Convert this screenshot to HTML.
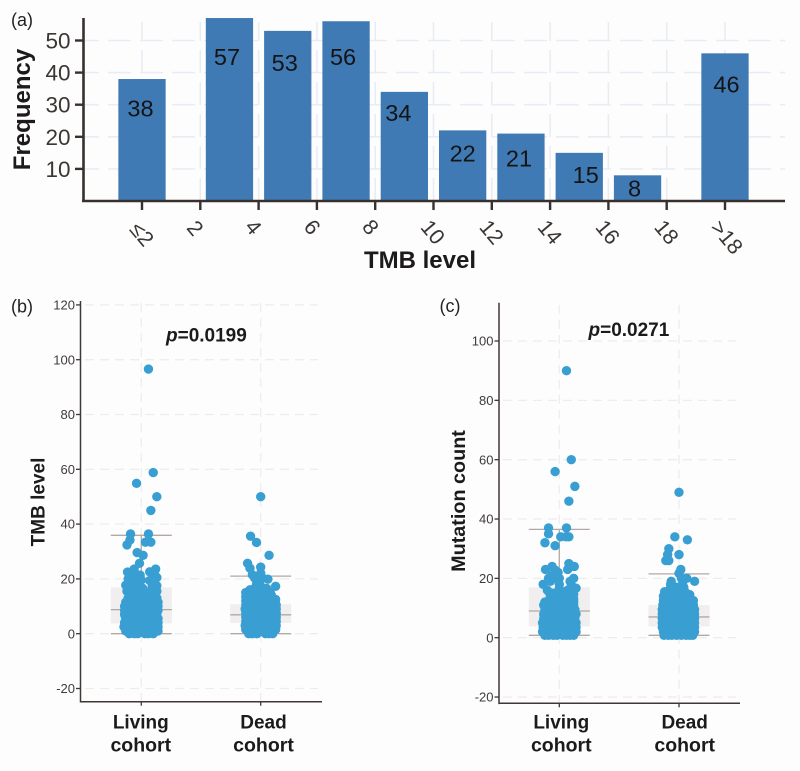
<!DOCTYPE html>
<html>
<head>
<meta charset="utf-8">
<title>TMB level charts</title>
<style>
html,body{margin:0;padding:0;background:#fdfdfd;}
svg{display:block;font-family:"Liberation Sans",Arial,sans-serif;}
</style>
</head>
<body>
<svg id="figure" width="800" height="771" viewBox="0 0 800 771" xmlns="http://www.w3.org/2000/svg">
  <rect width="800" height="771" fill="#fdfdfd"/>
  <text x="11" y="26" font-size="18" fill="#222">(a)</text>
  <text x="11" y="312.5" font-size="18" fill="#222">(b)</text>
  <text x="439.5" y="312" font-size="18" fill="#222">(c)</text>
  <text transform="translate(30 109.5) rotate(-90)" text-anchor="middle" font-size="24" font-weight="bold" fill="#1c1a1a">Frequency</text>
  <text x="420" y="268" text-anchor="middle" font-size="24" font-weight="bold" fill="#1c1a1a">TMB level</text>
  <text transform="translate(44.5 502) rotate(-90)" text-anchor="middle" font-size="19" font-weight="bold" fill="#1c1a1a">TMB level</text>
  <text transform="translate(465 501) rotate(-90)" text-anchor="middle" font-size="19.8" font-weight="bold" fill="#1c1a1a">Mutation count</text>
  <text x="166" y="341.5" font-size="19" font-weight="bold" fill="#1c1a1a"><tspan font-style="italic">p</tspan>=0.0199</text>
  <text x="588.5" y="336" font-size="19" font-weight="bold" fill="#1c1a1a"><tspan font-style="italic">p</tspan>=0.0271</text>
  <g id="panel-a"></g>
  <g id="panel-b"></g>
  <g id="panel-c"></g>
</svg>
<script>
/* Panel (a) data */
const freqTickValues = [10, 20, 30, 40, 50];
const tmbTickValues = [0, 2, 4, 6, 8, 10, 12, 14, 16, 18, 20];
const tmbTickLabels = ['\u22642', '2', '4', '6', '8', '10', '12', '14', '16', '18', '>18'];
const barBinCenters = [0, 3, 5, 7, 9, 11, 13, 15, 17, 20];
const barFrequencies = [38, 57, 53, 56, 34, 22, 21, 15, 8, 46];
/* label placement nudges, relative to the top-centre of each bar */
const barLabelNudgeX = [-1.5, -2.5, -3, -3, -6, 0, -2, 6.5, -3, 1.5];
const barLabelNudgeY = [37.5, 47, 40, 44, 29, 31, 33, 30, 21, 39];
const tickLabelNudgeX = [0, -5, -5, -4.5, -4.5, -0.5, 0, 0, -0.5, 0, 2];
const tickLabelNudgeY = [33, 27, 26, 26, 26, 31, 31, 31, 31, 31, 36];

/* Panels (b) and (c) shared data */
const cohortNames = [['Living', 'cohort'], ['Dead', 'cohort']];
const scatterTickValues = [-20, 0, 20, 40, 60, 80, 100, 120];
const scatterTickValuesC = [-20, 0, 20, 40, 60, 80, 100];

/* Panel (b) boxes: living, dead */
const tmbQ1 = [3.8, 3.9];
const tmbMedian = [8.8, 6.9];
const tmbQ3 = [16.9, 10.8];
const tmbUpper = [35.9, 21];
const tmbLower = [0, 0];

/* Panel (c) boxes: living, dead */
const mutQ1 = [3.8, 3.8];
const mutMedian = [9, 7];
const mutQ3 = [17, 11];
const mutUpper = [36.5, 21.5];
const mutLower = [0.8, 0.8];

/* Panel (b) living points */
const tmbLivingValues = [96.6,58.8,54.9,50,45,36.4,36.4,34.2,32.4,33.4,33.4,29.6,28.6,25.7,
22.5,23.6,23.6,22.6,20.8,21.4,19.6,19.9,20.5,19.4,17.7,18.5,16.6,17.5,15.5,15.5,15.5,15.5,
13,13,13,13,13,13,13,
11.5,11.5,11.5,11.5,11.5,11.5,11.5,11.5,
10,10,10,10,10,10,10,10,
8.5,8.5,8.5,8.5,8.5,8.5,8.5,8.5,
7,7,7,7,7,7,7,7,
5.5,5.5,5.5,5.5,5.5,5.5,5.5,5.5,
4,4,4,4,4,4,4,4,
2.5,2.5,2.5,2.5,2.5,2.5,2.5,2.5,
1,1,1,1,1,1,1,1,
0,0,0,0,0,0,
19,21,18,16.5,17,18.5,21,20,17.5,15,14.5,14];
const tmbLivingJitter = [.06,.10,-.04,.13,.08,-.09,.06,-.095,-.12,.035,.08,-.035,.015,-.015,
-.115,-.06,.12,.07,-.095,-.01,0,.10,.13,.07,-.13,-.09,.01,.13,-.12,-.09,.08,.13,
-.11,-.07,-.03,.01,.05,.09,.13,
-.13,-.09,-.05,-.01,.03,.07,.11,.14,
-.14,-.10,-.06,-.02,.02,.06,.10,.14,
-.14,-.10,-.06,-.02,.02,.06,.10,.14,
-.14,-.10,-.06,-.02,.02,.06,.10,.13,
-.13,-.09,-.05,-.01,.03,.07,.11,.14,
-.14,-.10,-.06,-.02,.02,.06,.10,.14,
-.145,-.10,-.06,-.02,.02,.06,.10,.14,
-.13,-.09,-.05,-.01,.03,.07,.11,.14,
-.10,-.06,-.03,.03,.06,.10,
-.08,-.06,-.03,-.05,.09,.11,.12,-.11,-.02,.03,-.03,.05];

/* Panel (b) dead points */
const tmbDeadValues = [50,35.6,33.3,28.6,25.7,23.9,24.3,22.1,21.5,20.3,20.3,19.9,18,17.4,17.3,16,
15,15,15,15,15,
13.5,13.5,13.5,13.5,13.5,13.5,
12,12,12,12,12,12,12,
10.5,10.5,10.5,10.5,10.5,10.5,10.5,10.5,
9,9,9,9,9,9,9,9,
7.5,7.5,7.5,7.5,7.5,7.5,7.5,7.5,
6,6,6,6,6,6,6,6,
4.5,4.5,4.5,4.5,4.5,4.5,4.5,4.5,
3,3,3,3,3,3,3,3,
1.5,1.5,1.5,1.5,1.5,1.5,1.5,1.5,
0,0,0,0,0,0,
16,16.5,15.5,16.5,14,15,12.5];
const tmbDeadJitter = [0,-.085,-.035,.07,-.11,-.09,0,0,-.07,-.05,.015,.06,-.035,0,.125,.02,
-.125,-.10,-.03,.01,.04,
-.125,-.09,-.05,-.01,.03,.07,
-.125,-.09,-.05,-.01,.03,.07,.11,
-.125,-.09,-.05,-.01,.03,.06,.10,.13,
-.13,-.09,-.05,-.01,.03,.06,.10,.13,
-.125,-.09,-.05,-.01,.03,.06,.10,.13,
-.125,-.09,-.05,-.01,.03,.06,.10,.13,
-.125,-.09,-.05,-.01,.03,.06,.10,.13,
-.13,-.09,-.05,-.01,.03,.06,.10,.13,
-.125,-.09,-.05,-.01,.03,.06,.10,.125,
-.10,-.07,-.03,.04,.07,.10,
-.09,-.05,-.01,.05,.09,.08,.125];

/* Panel (c) living points */
const mutLivingValues = [90,60,56,51,46,37,37,35,32,31,34,34,34,25,24,23,24,23,22,22.8,20,20,18,18,17.8,16.7,
16.6,16,15,14,13,13,13,13,
12,12,12,12,12,12,
11,11,11,11,11,11,11,
9.5,9.5,9.5,9.5,9.5,9.5,9.5,
8,8,8,8,8,8,8,8,
6.5,6.5,6.5,6.5,6.5,6.5,6.5,
5,5,5,5,5,5,5,5,
3.5,3.5,3.5,3.5,3.5,3.5,3.5,3.5,
2,2,2,2,2,2,2,2,
0.8,0.8,0.8,0.8,0.8,0.8,0.8,0.8,
21,19,20,20,19,17,15,15,16,13.5,14,14.5];
const mutLivingJitter = [.06,.10,-.035,.13,.08,-.09,.06,-.09,-.12,-.035,.012,.056,.08,.08,.125,.07,-.06,-.115,-.01,-.035,-.09,.12,-.135,0,.10,.14,
0,.07,-.08,.05,-.08,-.03,.05,.12,
-.12,-.07,-.03,.03,.06,.12,
-.13,-.09,-.04,0,.05,.10,.12,
-.12,-.08,-.02,.03,.06,.10,.13,
-.13,-.09,-.05,-.01,.03,.07,.10,.14,
-.13,-.09,-.05,0,.04,.09,.13,
-.14,-.10,-.06,-.02,.02,.06,.10,.14,
-.135,-.10,-.06,-.02,.02,.06,.10,.14,
-.14,-.10,-.06,-.02,.02,.06,.10,.14,
-.12,-.09,-.05,-.02,.03,.06,.09,.12,
-.06,-.075,-.03,0,.09,.11,.03,-.05,-.10,-.02,.09,.12];

/* Panel (c) dead points */
const mutDeadValues = [49,34,33,30,28,28,26,26,23,21.7,20,19,19,20,
17,17,17,17,
15.5,15.5,15.5,15.5,15.5,
14,14,14,14,14,14,
12.5,12.5,12.5,12.5,12.5,12.5,12.5,
11,11,11,11,11,11,11,11,
9.5,9.5,9.5,9.5,9.5,9.5,9.5,9.5,
8,8,8,8,8,8,8,8,
6.5,6.5,6.5,6.5,6.5,6.5,6.5,6.5,
5,5,5,5,5,5,5,5,
3.5,3.5,3.5,3.5,3.5,3.5,3.5,3.5,
2,2,2,2,2,2,2,2,
0.8,0.8,0.8,0.8,0.8,0.8,0.8,0.8,
14.5,12.5,18,18];
const mutDeadJitter = [0,-.035,.07,-.085,-.095,0,-.11,-.085,.015,0,.065,.13,-.065,.02,
-.07,-.02,.01,.04,
-.12,-.07,-.03,.01,.05,
-.13,-.09,-.05,-.01,.03,.06,
-.13,-.09,-.05,-.01,.03,.06,.09,
-.135,-.09,-.05,-.01,.03,.06,.09,.12,
-.14,-.10,-.06,-.02,.02,.06,.10,.13,
-.14,-.10,-.06,-.02,.02,.06,.10,.13,
-.14,-.10,-.06,-.02,.02,.06,.10,.13,
-.14,-.10,-.06,-.02,.02,.06,.10,.13,
-.14,-.10,-.06,-.02,.02,.06,.10,.13,
-.13,-.10,-.06,-.02,.02,.06,.10,.13,
-.125,-.09,-.06,-.02,.02,.06,.09,.115,
.09,.12,-.07,.03];

const SVG_NS = 'http://www.w3.org/2000/svg';
function add(parent, tag, attrs, text) {
  const node = document.createElementNS(SVG_NS, tag);
  for (const key in attrs) node.setAttribute(key, attrs[key]);
  if (text !== undefined) node.textContent = text;
  parent.appendChild(node);
  return node;
}

/* ---------- Panel (a) ---------- */
function drawPanelA() {
  const g = document.getElementById('panel-a');
  const xA = v => 142 + v * 29.15;
  const yA = v => 201 - v * 3.21;
  const gridColor = '#e9edf3';
  const axisColor = '#38302e';
  const barWidth = 47.3;

  freqTickValues.forEach(v => {
    const line = add(g, 'line', {x1: 84, x2: 785, y1: yA(v), y2: yA(v), stroke: gridColor, 'stroke-width': 1.6, 'stroke-dasharray': '23 9', 'stroke-dashoffset': 8});
    
    
  });
  tmbTickValues.forEach(v => {
    const line = add(g, 'line', {x1: xA(v), x2: xA(v), y1: 201, y2: 22, stroke: gridColor, 'stroke-width': 1.6, 'stroke-dasharray': '23 9'});
    
    
  });
  barFrequencies.forEach((f, i) => {
    const cx = xA(barBinCenters[i]);
    const bar = add(g, 'rect', {x: cx - barWidth / 2, y: yA(f), width: barWidth, height: yA(0) - yA(f), fill: '#407ab5'});
    
    
  });
  const yAxis = add(g, 'line', {x1: 83.5, x2: 83.5, y1: 18, y2: 202, stroke: axisColor, 'stroke-width': 2.6});
  
  
  const xAxis = add(g, 'line', {x1: 82, x2: 785, y1: 201, y2: 201, stroke: axisColor, 'stroke-width': 2.6});
  
  

  barFrequencies.forEach((f, i) => {
    const cx = xA(barBinCenters[i]);
    const label = add(g, 'text', {x: cx + barLabelNudgeX[i], y: yA(f) + barLabelNudgeY[i], 'text-anchor': 'middle', 'font-size': 23.5, fill: '#141414'}, String(f));
    
    
  });
  freqTickValues.forEach(v => {
    const tick = add(g, 'line', {x1: 75, x2: 83, y1: yA(v), y2: yA(v), stroke: axisColor, 'stroke-width': 2.4});
    
    
    const label = add(g, 'text', {x: 70.5, y: yA(v) + 8, 'text-anchor': 'end', 'font-size': 22.5, fill: '#3a3634'}, String(v));
    
    
  });
  tmbTickValues.forEach((v, i) => {
    const tick = add(g, 'line', {x1: xA(v), x2: xA(v), y1: 201, y2: 210, stroke: axisColor, 'stroke-width': 2.4});
    
    
    const lx = xA(v) + tickLabelNudgeX[i];
    const ly = 201 + tickLabelNudgeY[i];
    const label = add(g, 'text', {transform: 'translate(' + lx + ' ' + ly + ') rotate(50)', 'text-anchor': 'middle', y: 7.5, 'font-size': 21.5, fill: '#3a3634'}, tmbTickLabels[i]);
    
    
  });
}

/* ---------- Panels (b), (c) ---------- */
function drawScatter(cfg) {
  const g = document.getElementById(cfg.id);
  const yS = v => cfg.y0 - v * cfg.yPerUnit;
  const xS = c => cfg.x1 + (c - 1) * (cfg.x2 - cfg.x1);
  const gridColor = '#eeeded';
  const axisColor = '#3f3836';
  const boxLine = '#b3a8a5';

  cfg.ticks.forEach(v => {
    const line = add(g, 'line', {x1: cfg.gridLeft, x2: cfg.gridRight, y1: yS(v), y2: yS(v), stroke: gridColor, 'stroke-width': 1.3, 'stroke-dasharray': '9 6'});
    
    
  });
  [1, 2].forEach(c => {
    const line = add(g, 'line', {x1: xS(c), x2: xS(c), y1: cfg.axisTop + 2, y2: cfg.axisBottom, stroke: gridColor, 'stroke-width': 1.3, 'stroke-dasharray': '9 6'});
    
    
  });

  [0, 1].forEach(i => {
    const cx = xS(i + 1);
    const hw = 30.5;
    const box = add(g, 'rect', {x: cx - hw, y: yS(cfg.q3[i]), width: hw * 2, height: yS(cfg.q1[i]) - yS(cfg.q3[i]), fill: '#f0eeee'});
    
    
    const whisker = add(g, 'line', {x1: cx, x2: cx, y1: yS(cfg.upper[i]), y2: yS(cfg.q3[i]), stroke: boxLine, 'stroke-width': 1.3});
    
    
    const median = add(g, 'line', {x1: cx - hw, x2: cx + hw, y1: yS(cfg.median[i]), y2: yS(cfg.median[i]), stroke: boxLine, 'stroke-width': 1.3});
    
    
    const upperCap = add(g, 'line', {x1: cx - hw, x2: cx + hw, y1: yS(cfg.upper[i]), y2: yS(cfg.upper[i]), stroke: boxLine, 'stroke-width': 1.3});
    
    
    const lowerCap = add(g, 'line', {x1: cx - hw, x2: cx + hw, y1: yS(cfg.lower[i]), y2: yS(cfg.lower[i]), stroke: boxLine, 'stroke-width': 1.3});
    
    
  });

  [[cfg.livingValues, cfg.livingJitter, 1], [cfg.deadValues, cfg.deadJitter, 2]].forEach(series => {
    series[0].forEach((v, i) => {
      const dot = add(g, 'circle', {cx: xS(series[2] + series[1][i]), cy: yS(v), r: 4.7, fill: '#399fd3'});
      
      
    });
  });

  const yAxis = add(g, 'line', {x1: cfg.axisLeft, x2: cfg.axisLeft, y1: cfg.axisTop, y2: cfg.axisBottom + 0.8, stroke: axisColor, 'stroke-width': 1.5});
  
  
  const xAxis = add(g, 'line', {x1: cfg.axisLeft, x2: cfg.axisRight, y1: cfg.axisBottom, y2: cfg.axisBottom, stroke: axisColor, 'stroke-width': 1.5});
  
  

  cfg.ticks.forEach(v => {
    const tick = add(g, 'line', {x1: cfg.axisLeft - 4.5, x2: cfg.axisLeft, y1: yS(v), y2: yS(v), stroke: axisColor, 'stroke-width': 1.3});
    
    
    const label = add(g, 'text', {x: cfg.axisLeft - 5.5, y: yS(v) + 4.6, 'text-anchor': 'end', 'font-size': 13, fill: '#3f3b3a'}, String(v));
    
    
  });
  [0, 1].forEach(i => {
    const cx = xS(i + 1);
    const tick = add(g, 'line', {x1: cx, x2: cx, y1: cfg.axisBottom, y2: cfg.axisBottom + 4, stroke: axisColor, 'stroke-width': 1.3});
    
    
    const line1 = add(g, 'text', {x: cx + cfg.labelShift[i], y: 728.3, 'text-anchor': 'middle', 'font-size': 19, 'font-weight': 'bold', fill: '#1c1a1a'}, cohortNames[i][0]);
    
    
    const line2 = add(g, 'text', {x: cx + cfg.labelShift[i], y: 751.7, 'text-anchor': 'middle', 'font-size': 19.5, 'font-weight': 'bold', fill: '#1c1a1a'}, cohortNames[i][1]);
    
    
  });
}

drawPanelA();
drawScatter({
  id: 'panel-b', y0: 633.7, yPerUnit: 2.74, x1: 141.3, x2: 260.7,
  axisLeft: 80.5, axisRight: 322, axisTop: 301, axisBottom: 701.7, gridLeft: 85, gridRight: 318,
  ticks: scatterTickValues, q1: tmbQ1, median: tmbMedian, q3: tmbQ3, upper: tmbUpper, lower: tmbLower,
  livingValues: tmbLivingValues, livingJitter: tmbLivingJitter, deadValues: tmbDeadValues, deadJitter: tmbDeadJitter,
  labelShift: [-0.5, 2.8]
});
drawScatter({
  id: 'panel-c', y0: 637.7, yPerUnit: 2.967, x1: 559.3, x2: 679,
  axisLeft: 499, axisRight: 740, axisTop: 302.7, axisBottom: 703.3, gridLeft: 503, gridRight: 736,
  ticks: scatterTickValuesC, q1: mutQ1, median: mutMedian, q3: mutQ3, upper: mutUpper, lower: mutLower,
  livingValues: mutLivingValues, livingJitter: mutLivingJitter, deadValues: mutDeadValues, deadJitter: mutDeadJitter,
  labelShift: [2, 5.7]
});
</script>
</body>
</html>
